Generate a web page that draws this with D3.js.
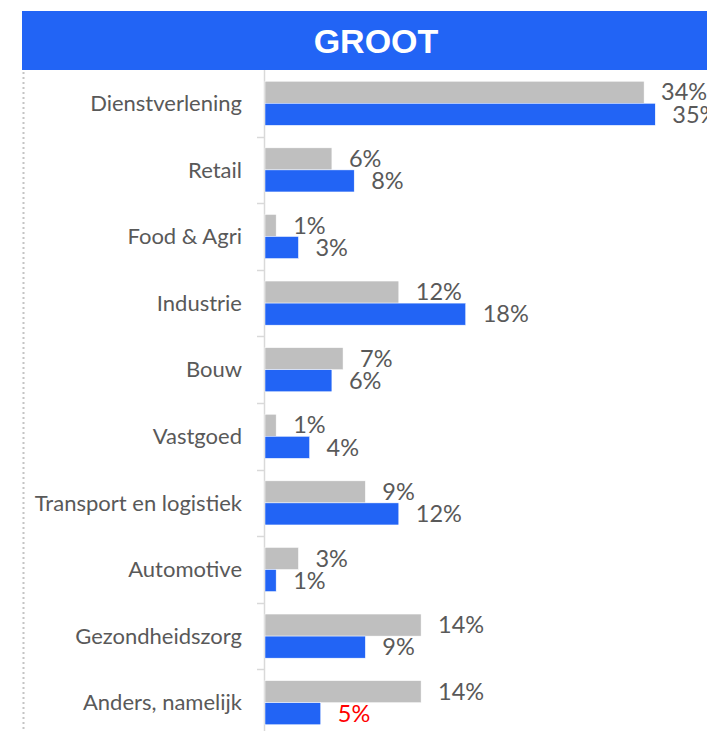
<!DOCTYPE html>
<html>
<head>
  <meta charset="utf-8">
  <title>GROOT</title>
  <style>
    body { margin: 0; background: #fff; }
    svg { display: block; }
  </style>
</head>
<body>

<script src="https://d3js.org/d3.v7.min.js"></script>
<svg id="chart" width="707" height="731"></svg>

<script>
    // categorieen en percentages (grijs = vorige meting, blauw = huidige)
    var categories = ["Dienstverlening", "Retail", "Food & Agri", "Industrie", "Bouw",
                      "Vastgoed", "Transport en logistiek", "Automotive", "Gezondheidszorg", "Anders, namelijk"];
    var series = ["vorig", "huidig"];
    var vorig  = [34, 6, 1, 12, 7, 1, 9, 3, 14, 14];
    var huidig = [35, 8, 3, 18, 6, 4, 12, 1, 9, 5];
    var redLabels = ["Anders, namelijk|huidig"]; // rood gemarkeerd label

    var colors = { vorig: "#bfbfbf", huidig: "#2264f5" };
    var textColor = "#595959";
    var font = "Lato, 'Open Sans', sans-serif";

    var svg = d3.select("#chart");

    // kop
    svg.append("rect")
        .attr("x", 22).attr("y", 11)
        .attr("width", 730).attr("height", 59)
        .attr("fill", "#2264f5");
    svg.append("text")
        .attr("x", 376).attr("y", 52.5)
        .attr("text-anchor", "middle")
        .attr("fill", "#fff")
        .style("font-family", "'Liberation Sans', Arial, sans-serif")
        .style("font-weight", "bold")
        .style("font-size", "34px")
        .text("GROOT");

    // gestippelde rand links
    svg.append("line")
        .attr("x1", 23.5).attr("x2", 23.5)
        .attr("y1", 72).attr("y2", 731)
        .attr("stroke", "#c4c4c4")
        .attr("stroke-width", 2)
        .attr("stroke-dasharray", "2,3");

    var data = categories.map(function(c, i) {
        return { cat: c, vorig: vorig[i], huidig: huidig[i] };
    });

    var y0 = d3.scaleBand().domain(categories).range([70, 736]);
    var y1 = d3.scaleBand().domain(series).range([0, y0.bandwidth()]).paddingOuter(0.51);
    var x = d3.scaleLinear().domain([0, 40]).range([265, 265 + 446]);

    // as met tickjes op de grenzen
    var axis = svg.append("g");
    axis.append("line")
        .attr("x1", 264.5).attr("x2", 264.5)
        .attr("y1", 70).attr("y2", 731)
        .attr("stroke", "#d9d9d9").attr("stroke-width", 1.5);
    axis.selectAll("line.tick")
        .data(categories.slice(1))
        .enter().append("line")
        .attr("class", "tick")
        .attr("x1", 257).attr("x2", 264.5)
        .attr("y1", function(d) { return Math.round(y0(d)) + 0.5; })
        .attr("y2", function(d) { return Math.round(y0(d)) + 0.5; })
        .attr("stroke", "#d9d9d9").attr("stroke-width", 1.5);

    // categorielabels
    svg.selectAll("text.cat")
        .data(categories)
        .enter().append("text")
        .attr("class", "cat")
        .attr("x", 242)
        .attr("y", function(d) { return y0(d) + y0.bandwidth() / 2; })
        .attr("dy", "0.35em")
        .attr("text-anchor", "end")
        .attr("fill", textColor)
        .style("font-family", font)
        .style("font-size", "22px")
        .text(function(d) { return d; });

    var groups = svg.selectAll("g.cat")
        .data(data)
        .enter().append("g")
        .attr("class", "cat")
        .attr("transform", function(d) { return "translate(0," + y0(d.cat) + ")"; });

    var cells = groups.selectAll("g.bar")
        .data(function(d) { return series.map(function(s) { return { cat: d.cat, key: s, value: d[s] }; }); })
        .enter().append("g")
        .attr("class", "bar");

    cells.append("rect")
        .attr("x", x(0))
        .attr("y", function(d) { return y1(d.key); })
        .attr("width", function(d) { return x(d.value) - x(0); })
        .attr("height", y1.bandwidth())
        .attr("fill", function(d) { return colors[d.key]; })
        .attr("stroke", "#fff")
        .attr("stroke-width", 0.5);

    cells.append("text")
        .attr("x", function(d) { return x(d.value) + 17; })
        .attr("y", function(d) { return y1(d.key) + y1.bandwidth() / 2; })
        .attr("dy", "0.35em")
        .attr("fill", function(d) {
            return redLabels.indexOf(d.cat + "|" + d.key) >= 0 ? "#ff0000" : textColor;
        })
        .style("font-family", font)
        .style("font-size", "23.5px")
        .text(function(d) { return d.value + "%"; });
</script>
</body>
</html>
